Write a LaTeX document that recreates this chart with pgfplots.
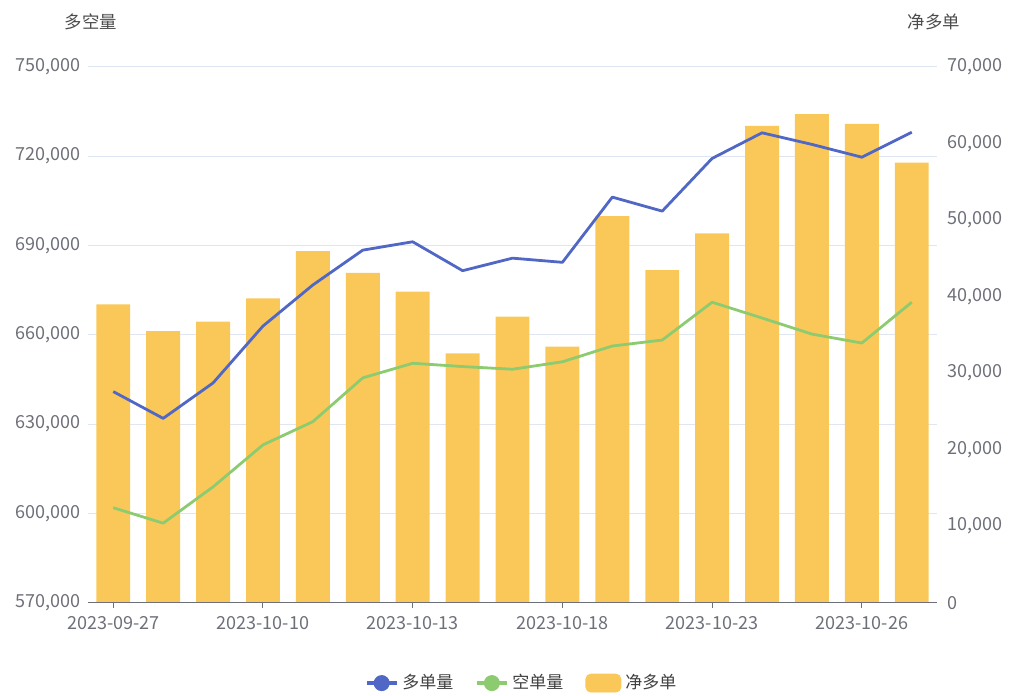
\documentclass[border=0pt]{standalone}
\usepackage{pgfplots}
\usepackage{pgfplotstable}
\pgfplotsset{compat=1.18}
\usepackage{fontspec}
\setmainfont{Noto Sans CJK SC}
\definecolor{cblue}{HTML}{5067C5}
\definecolor{cgreen}{HTML}{8DCB70}
\definecolor{cyellow}{HTML}{FAC858}
\definecolor{ctext}{HTML}{6E7079}
\definecolor{cgrid}{HTML}{E0E6F1}

\pgfplotstableread{
idx long short net
0 640900 601900 38970
1 631900 596700 35480
2 643800 608900 36700
3 662900 623000 39750
4 676700 630800 45930
5 688400 645500 43060
6 691200 650400 40620
7 681500 649300 32570
8 685700 648400 37350
9 684300 650900 33430
10 706200 656200 50500
11 701500 658200 43450
12 719200 670900 48240
13 727800 665600 62260
14 723900 660200 63820
15 719600 657200 62520
16 728000 670900 57460
}\data

\pgfplotsset{
  base/.style={
    width=424.2pt, height=268pt, scale only axis,
    xmin=-0.5, xmax=16.5,
    axis line style={draw=none},
    tick style={draw=none},
    major tick length=0pt,
    ticklabel style={font=\fontsize{9}{10}\selectfont, text=ctext},
    /pgf/number format/assume math mode=true,
    /pgf/number format/fixed,
    /pgf/number format/precision=0,
    /pgf/number format/1000 sep={,},
    scaled y ticks=false,
  }
}

\begin{document}
\begin{tikzpicture}
\useasboundingbox (-44.15pt,-46.15pt) rectangle (460.85pt,301.35pt);
% grid and left tick labels
\begin{axis}[base,
  ymin=570000, ymax=750000,
  ytick={570000,600000,...,750000},
  ytick pos=left,
  xtick=\empty,
  ymajorgrids, grid style={cgrid, line width=0.5pt},
  yticklabel style={xshift=-0.5pt},
]
\addplot[draw=none] coordinates {(0,600000)};
\end{axis}
% bars, right axis
\begin{axis}[base,
  ymin=0, ymax=70000,
  ytick={0,10000,...,70000},
  ytick pos=right,
  yticklabel pos=right,
  xtick=\empty,
  yticklabel style={xshift=2pt},
]
\addplot[ybar, bar width=0.68, fill=cyellow, draw=none] table[x=idx, y=net] {\data};
\end{axis}
% lines, x axis, legend, titles
\begin{axis}[base,
  ymin=570000, ymax=750000,
  axis x line*=bottom, axis y line=none,
  x axis line style={draw=ctext, line width=0.5pt, -},
  xtick={0,3,6,9,12,15},
  xticklabels={2023-09-27,2023-10-10,2023-10-13,2023-10-18,2023-10-23,2023-10-26},
  x tick style={draw=ctext, line width=0.5pt},
  xtick align=outside,
  major tick length=2.5pt,
  xticklabel style={yshift=-1pt},
  ytick=\empty,
  legend style={at={(rel axis cs:0.512,-0.15)}, anchor=center, draw=none, fill=none,
    legend columns=3, font=\fontsize{8.5}{10}\selectfont, text=black!75,
    /tikz/every even column/.append style={column sep=9pt}},
  legend cell align=left,
  clip=false,
]
\addplot[cblue, line width=1.4pt, line join=round,
  legend image code/.code={\draw[cblue, line width=1.6pt] (0pt,0pt) -- (15pt,0pt); \fill[cblue] (7.5pt,0pt) circle (3.3pt);}]
  table[x=idx, y=long] {\data};
\addlegendentry{多单量}
\addplot[cgreen, line width=1.4pt, line join=round,
  legend image code/.code={\draw[cgreen, line width=1.6pt] (0pt,0pt) -- (15pt,0pt); \fill[cgreen] (7.5pt,0pt) circle (3.3pt);}]
  table[x=idx, y=short] {\data};
\addlegendentry{空单量}
\addlegendimage{legend image code/.code={\fill[cyellow, rounded corners=2.5pt] (0pt,-4.5pt) rectangle (17.5pt,4.5pt);}}
\addlegendentry{净多单}
\node[font=\fontsize{8.7}{10}\selectfont, text=black!70] at (rel axis cs:0.0032,1.0834) {多空量};
\node[font=\fontsize{8.7}{10}\selectfont, text=black!70] at (rel axis cs:0.9968,1.0834) {净多单};
\end{axis}
\end{tikzpicture}
\end{document}
